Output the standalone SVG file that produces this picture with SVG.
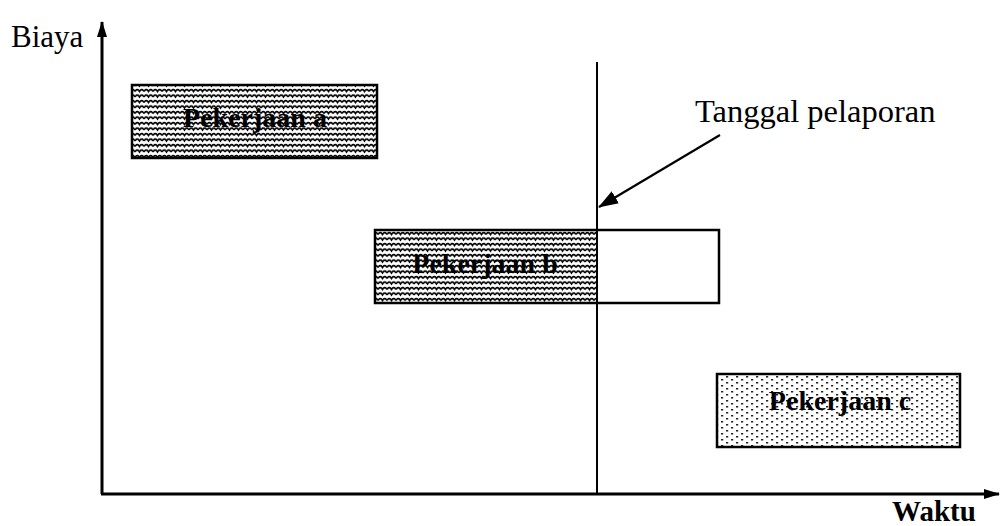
<svg xmlns="http://www.w3.org/2000/svg" width="1000" height="526" viewBox="0 0 1000 526">
<style>
.lbl{font-family:"Liberation Serif","Times New Roman",serif;fill:#000}
.box{stroke:#000;stroke-width:2.5}
.ax{stroke:#000;stroke-width:3;fill:none}
</style>
<defs>
<pattern id="wave" width="9" height="5.5" patternUnits="userSpaceOnUse">
<rect width="9" height="5.5" fill="#fff"/>
<path d="M0 4 Q2.25 0.5 4.5 4 Q6.75 0.5 9 4" fill="none" stroke="#000" stroke-width="1.7" transform="translate(0,-0.6)"/>
</pattern>
<pattern id="dots" width="10" height="6" patternUnits="userSpaceOnUse">
<rect width="10" height="6" fill="#fff"/>
<rect x="1" y="1" width="2.2" height="1.5" fill="#222"/>
<rect x="6" y="4" width="2.2" height="1.5" fill="#222"/>
</pattern>
<marker id="ah" viewBox="0 0 16 12" refX="15" refY="6" markerWidth="16" markerHeight="12" orient="auto" markerUnits="userSpaceOnUse">
<path d="M0 1 L16 6 L0 11 Z" fill="#000"/>
</marker>
<marker id="ah2" viewBox="0 0 20 14" refX="19" refY="7" markerWidth="20" markerHeight="14" orient="auto" markerUnits="userSpaceOnUse">
<path d="M0 0 L20 7 L0 14 Z" fill="#000"/>
</marker>
</defs>
<g id="axes">
<line class="ax" x1="102" y1="494" x2="102" y2="22" marker-end="url(#ah)"/>
<line class="ax" x1="101" y1="494" x2="999" y2="494" marker-end="url(#ah)"/>
<text class="lbl" x="11" y="47" font-size="31">Biaya</text>
<text class="lbl" x="892" y="521" font-size="29" font-weight="bold">Waktu</text>
</g>
<g id="pekerjaan-a">
<rect class="box" x="132" y="85" width="245" height="73" fill="url(#wave)"/>
<text class="lbl" x="255" y="127" font-size="28" font-weight="bold" text-anchor="middle">Pekerjaan a</text>
</g>
<g id="pekerjaan-b">
<rect x="375" y="230" width="222" height="73" fill="url(#wave)"/>
<rect class="box" x="375" y="230" width="344" height="73" fill="none"/>
<text class="lbl" x="485" y="273" font-size="28" font-weight="bold" text-anchor="middle">Pekerjaan b</text>
</g>
<g id="pekerjaan-c">
<rect class="box" x="717" y="374" width="243" height="73" fill="url(#dots)"/>
<text class="lbl" x="840" y="410" font-size="28" font-weight="bold" text-anchor="middle">Pekerjaan c</text>
</g>
<g id="tanggal-pelaporan">
<text class="lbl" x="695" y="122" font-size="32.5">Tanggal pelaporan</text>
</g>
<g id="connectors">
<line x1="597" y1="62" x2="597" y2="494" stroke="#000" stroke-width="2"/>
<line x1="720" y1="135" x2="599" y2="207" stroke="#000" stroke-width="2.2" marker-end="url(#ah2)"/>
</g>
</svg>
